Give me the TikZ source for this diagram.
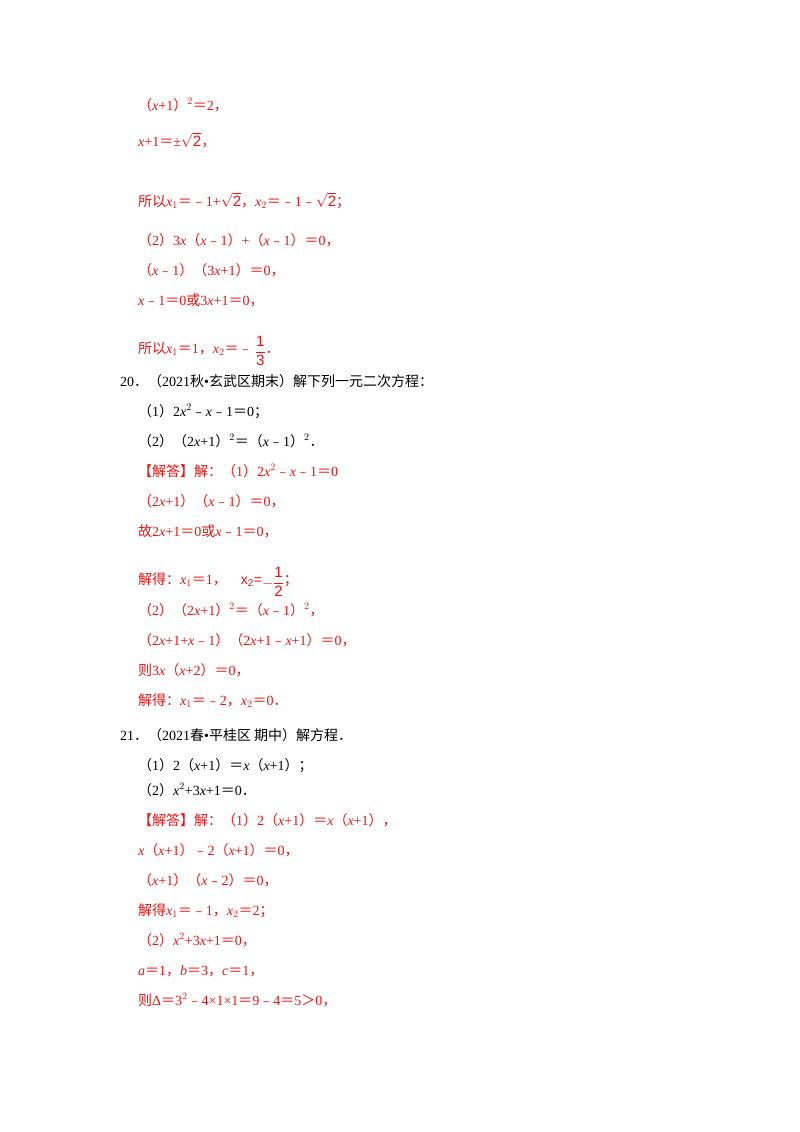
\documentclass[tikz,border=0pt]{standalone}
\usepackage{amsmath}
\usepackage{fontspec}
\setmainfont{Liberation Serif}
\newfontfamily\cjk{Noto Sans CJK SC}
\newfontfamily\sfz{Liberation Sans}
\newcommand{\C}[1]{{\cjk #1}}
\newcommand{\vx}[1]{\textit{#1}}
\definecolor{ansred}{RGB}{235,20,20}
\begin{document}
\begin{tikzpicture}[x=1pt,y=-1pt,
  ans/.style={anchor=base west,inner sep=0pt,text=ansred,font=\fontsize{14}{16}\selectfont},
  q/.style={anchor=base west,inner sep=0pt,text=black,font=\fontsize{14}{16}\selectfont}]
\useasboundingbox[fill=white] (0,0) rectangle (800,1132);
\node[ans] (a1) at (138,110) {\C{（}\vx{x}+1\C{）}$^{2}$\C{＝}2\C{，}};
\node[ans] (a2) at (138,146) {\vx{x}+1\C{＝}±{\fontsize{15}{15}\selectfont\sfz$\sqrt{\text{2}}$}\C{，}};
\node[ans] (a3) at (138,206) {\C{所以}\vx{x}$_1$\C{＝﹣}1+{\fontsize{15}{15}\selectfont\sfz$\sqrt{\text{2}}$}\C{，}\vx{x}$_2$\C{＝﹣}1\C{﹣}{\fontsize{15}{15}\selectfont\sfz$\sqrt{\text{2}}$}\C{；}};
\node[ans] (a4) at (138,245) {\C{（}2\C{）}3\vx{x}\C{（}\vx{x}\C{﹣}1\C{）}+\C{（}\vx{x}\C{﹣}1\C{）}\C{＝}0\C{，}};
\node[ans] (a5) at (138,275) {\C{（}\vx{x}\C{﹣}1\C{）（}3\vx{x}+1\C{）}\C{＝}0\C{，}};
\node[ans] (a6) at (138,305) {\vx{x}\C{﹣}1\C{＝}0\C{或}3\vx{x}+1\C{＝}0\C{，}};
\node[ans] (a7) at (138,353) {\C{所以}\vx{x}$_1$\C{＝}1\C{，}\vx{x}$_2$\C{＝﹣}\,\raisebox{-3pt}{\fontsize{15}{15}\selectfont\sfz$\dfrac{\text{1}}{\text{3}}$}\C{．}};
\node[q] (b1) at (120,386) {20\C{．（}2021\C{秋}•\C{玄武区期末）解下列一元二次方程：}};
\node[q] (b2) at (138,416) {\C{（}1\C{）}2\vx{x}$^{2}$\C{﹣}\vx{x}\C{﹣}1\C{＝}0\C{；}};
\node[q] (b3) at (138,446) {\C{（}2\C{）（}2\vx{x}+1\C{）}$^{2}$\C{＝（}\vx{x}\C{﹣}1\C{）}$^{2}$\C{．}};
\node[ans] (b4) at (138,476) {\C{【解答】解：（}1\C{）}2\vx{x}$^{2}$\C{﹣}\vx{x}\C{﹣}1\C{＝}0};
\node[ans] (b5) at (138,506) {\C{（}2\vx{x}+1\C{）（}\vx{x}\C{﹣}1\C{）}\C{＝}0\C{，}};
\node[ans] (b6) at (138,536) {\C{故}2\vx{x}+1\C{＝}0\C{或}\vx{x}\C{﹣}1\C{＝}0\C{，}};
\node[ans] (b7) at (138,584) {\C{解得：}\vx{x}$_1$\C{＝}1\C{，}\hspace{14pt}{\sfz x$_{\text{2}}$=\raisebox{-3pt}{\fontsize{15}{15}\selectfont$-\dfrac{\text{1}}{\text{2}}$}}\C{；}};
\node[ans] (b8) at (138,615) {\C{（}2\C{）（}2\vx{x}+1\C{）}$^{2}$\C{＝（}\vx{x}\C{﹣}1\C{）}$^{2}$\C{，}};
\node[ans] (b9) at (138,645) {\C{（}2\vx{x}+1+\vx{x}\C{﹣}1\C{）（}2\vx{x}+1\C{﹣}\vx{x}+1\C{）}\C{＝}0\C{，}};
\node[ans] (b10) at (138,675) {\C{则}3\vx{x}\C{（}\vx{x}+2\C{）}\C{＝}0\C{，}};
\node[ans] (b11) at (138,705) {\C{解得：}\vx{x}$_1$\C{＝﹣}2\C{，}\vx{x}$_2$\C{＝}0\C{．}};
\node[q] (c1) at (120,740) {21\C{．（}2021\C{春}•\C{平桂区 期中）解方程．}};
\node[q] (c2) at (138,770) {\C{（}1\C{）}2\C{（}\vx{x}+1\C{）}\C{＝}\vx{x}\C{（}\vx{x}+1\C{）；}};
\node[q] (c3) at (138,795) {\C{（}2\C{）}\vx{x}$^{2}$+3\vx{x}+1\C{＝}0\C{．}};
\node[ans] (c4) at (138,825) {\C{【解答】解：（}1\C{）}2\C{（}\vx{x}+1\C{）}\C{＝}\vx{x}\C{（}\vx{x}+1\C{），}};
\node[ans] (c5) at (138,855) {\vx{x}\C{（}\vx{x}+1\C{）}\C{﹣}2\C{（}\vx{x}+1\C{）}\C{＝}0\C{，}};
\node[ans] (c6) at (138,885) {\C{（}\vx{x}+1\C{）（}\vx{x}\C{﹣}2\C{）}\C{＝}0\C{，}};
\node[ans] (c7) at (138,915) {\C{解得}\vx{x}$_1$\C{＝﹣}1\C{，}\vx{x}$_2$\C{＝}2\C{；}};
\node[ans] (c8) at (138,945) {\C{（}2\C{）}\vx{x}$^{2}$+3\vx{x}+1\C{＝}0\C{，}};
\node[ans] (c9) at (138,975) {\vx{a}\C{＝}1\C{，}\vx{b}\C{＝}3\C{，}\vx{c}\C{＝}1\C{，}};
\node[ans] (c10) at (138,1005) {\C{则}Δ\C{＝}3$^{2}$\C{﹣}4×1×1\C{＝}9\C{﹣}4\C{＝}5\C{＞}0\C{，}};
\end{tikzpicture}
\end{document}
